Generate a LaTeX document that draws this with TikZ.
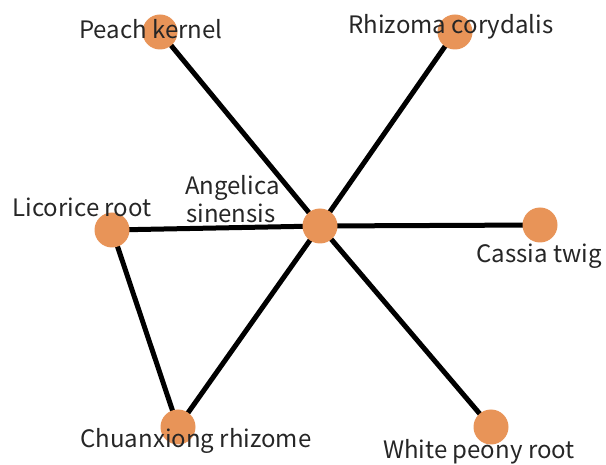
\documentclass[tikz,border=0pt]{standalone}
\usepackage{fontspec}
\setmainfont{Noto Sans CJK SC}
\definecolor{nodeorange}{RGB}{232,148,88}
\begin{document}
\begin{tikzpicture}[x=1pt,y=-1pt,
  herb/.style={circle,draw=none,minimum size=35pt,inner sep=0pt},
  edge/.style={line width=5pt,black},
  lbl/.style={anchor=base,inner sep=0pt,font=\fontsize{24}{28}\selectfont,text=black!85}]
\useasboundingbox (0,0) rectangle (606,465);
\node[herb] (pk) at (160,32) {};
\node[herb] (rc) at (455,32) {};
\node[herb] (as) at (320,226) {};
\node[herb] (lr) at (112,230) {};
\node[herb] (ct) at (540,225) {};
\node[herb] (cr) at (178,427) {};
\node[herb] (wp) at (491,427) {};
\draw[edge] (pk.center) -- (as.center);
\draw[edge] (rc.center) -- (as.center);
\draw[edge] (lr.center) -- (as.center);
\draw[edge] (as.center) -- (ct.center);
\draw[edge] (as.center) -- (wp.center);
\draw[edge] (as.center) -- (cr.center);
\draw[edge] (lr.center) -- (cr.center);
\foreach \n in {pk,rc,as,lr,ct,cr,wp} {\fill[nodeorange] (\n.center) circle (17.5);}
\node[lbl] (tpk) at (151,39) {Peach kernel};
\node[lbl] (trc) at (451,34) {Rhizoma corydalis};
\node[lbl,anchor=base west] (tas1) at (185,195) {Angelica};
\node[lbl,anchor=base west] (tas2) at (186,223) {sinensis};
\node[lbl] (tlr) at (82,217) {Licorice root};
\node[lbl] (tct) at (539,263) {Cassia twig};
\node[lbl] (tcr) at (196,447) {Chuanxiong rhizome};
\node[lbl] (twp) at (479,458) {White peony root};
\end{tikzpicture}
\end{document}
